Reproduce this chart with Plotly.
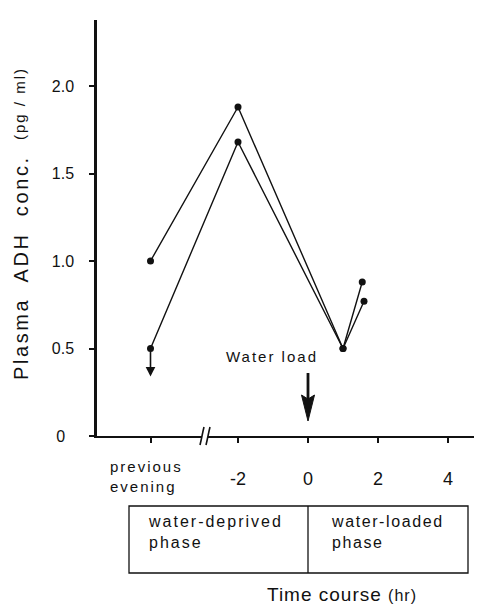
import plotly.graph_objects as go

# ---------------- data ----------------
series_a_x = [-4.5, -2, 1, 1.55]
series_a_y = [1.0, 1.88, 0.5, 0.88]
series_b_x = [-4.5, -2, 1, 1.6]
series_b_y = [0.5, 1.68, 0.5, 0.77]

y_tick_vals = [0, 0.5, 1.0, 1.5, 2.0]
y_tick_text = ["0\u2007", "0.5", "1.0", "1.5", "2.0"]
x_tick_vals = [-4.5, -2, 0, 2, 4]
x_tick_text = ["previous<br>evening", "-2", "0", "2", "4"]

phase_labels = ["water-deprived<br>phase", "water-loaded<br>phase"]
y_title = "Plasma  ADH  conc."
y_unit = "(pg / ml)"
x_title = "Time course"
x_unit = "(hr)"
water_load_label = "Water load"

# ---------------- layout helpers (page pixels -> paper) ----------------
OFF = 8                     # default page margin around the plot div
W, H = 482, 607             # window size
L, R, T, B = 97, 480, 20, 436  # plot area in page pixels
X0PX, PX_PER_HR = 308, 35   # pixel of t=0 and pixels per hour
PX_PER_UNIT = 175           # pixels per pg/ml


def px(x):
    return (x - L) / (R - L)


def py(y):
    return (B - y) / (B - T)


FONT = "Liberation Sans, Arial, Helvetica, sans-serif"
INK = "#111111"

fig = go.Figure()
for xs, ys in [(series_a_x, series_a_y), (series_b_x, series_b_y)]:
    fig.add_trace(go.Scatter(
        x=xs, y=ys, mode="lines+markers",
        line=dict(color=INK, width=1.4),
        marker=dict(color=INK, size=7),
        showlegend=False, cliponaxis=False,
    ))

fig.update_layout(
    width=W - OFF, height=H - OFF,
    margin=dict(l=L - OFF, r=W - R, t=T - OFF, b=H - B, pad=0),
    paper_bgcolor="white", plot_bgcolor="white",
    font=dict(family=FONT, color=INK),
    xaxis=dict(
        range=[(L - X0PX) / PX_PER_HR, (R - X0PX) / PX_PER_HR],
        showgrid=False, zeroline=False,
        showline=True, linecolor=INK, linewidth=2,
        ticks="outside", ticklen=5, tickwidth=2, tickcolor=INK,
        tickvals=x_tick_vals,
        ticktext=[""] + x_tick_text[1:],
        tickfont=dict(size=18, color=INK),
        ticklabelstandoff=20,
    ),
    yaxis=dict(
        range=[0, (B - T) / PX_PER_UNIT],
        showgrid=False, zeroline=False,
        showline=True, linecolor=INK, linewidth=2.5,
        ticks="outside", ticklen=5, tickwidth=2, tickcolor=INK,
        tickvals=y_tick_vals, ticktext=y_tick_text,
        tickfont=dict(size=16, color=INK),
        ticklabelstandoff=12,
    ),
)

ann = []
# previous evening label
ann.append(dict(xref="paper", yref="paper", x=px(108), y=py(476),
                text=f"<span style='letter-spacing:2px'>{x_tick_text[0]}</span>",
                showarrow=False, align="left", xanchor="left", yanchor="middle",
                font=dict(size=15, color=INK)))
# y title
ann.append(dict(xref="paper", yref="paper", x=px(21), y=py(268),
                text=f"<span style='letter-spacing:2.6px'>{y_title}</span>",
                textangle=-90, showarrow=False, xanchor="center", yanchor="middle",
                font=dict(size=20, color=INK)))
ann.append(dict(xref="paper", yref="paper", x=px(20), y=py(104),
                text=f"<span style='letter-spacing:2px'>{y_unit}</span>",
                textangle=-90, showarrow=False, xanchor="center", yanchor="middle",
                font=dict(size=15, color=INK)))
# x title
ann.append(dict(xref="paper", yref="paper", x=px(342), y=py(594),
                text=f"<span style='letter-spacing:1px'>{x_title} <span style='font-size:16px'>{x_unit}</span></span>",
                showarrow=False, xanchor="center", yanchor="middle",
                font=dict(size=19, color=INK)))
# phase labels
ann.append(dict(xref="paper", yref="paper", x=px(146), y=py(532),
                text=f"<span style='letter-spacing:2px'>{phase_labels[0]}</span>",
                showarrow=False, align="left", xanchor="left", yanchor="middle",
                font=dict(size=16, color=INK)))
ann.append(dict(xref="paper", yref="paper", x=px(329), y=py(532),
                text=f"<span style='letter-spacing:1.6px'>{phase_labels[1]}</span>",
                showarrow=False, align="left", xanchor="left", yanchor="middle",
                font=dict(size=16, color=INK)))
# water load label
ann.append(dict(xref="x", yref="y", x=-1.03, y=0.457,
                text=f"<span style='letter-spacing:2px'>{water_load_label}</span>",
                showarrow=False, xanchor="center", yanchor="middle",
                font=dict(size=15, color=INK)))
# small down arrow (below detection) at previous evening
ann.append(dict(xref="x", yref="y", axref="x", ayref="y",
                x=series_b_x[0], y=0.34, ax=series_b_x[0], ay=series_b_y[0], text="",
                showarrow=True, arrowhead=2, arrowsize=1.2, arrowwidth=1.6,
                arrowcolor=INK))
fig.update_layout(annotations=ann)

shapes = []
# water load arrow (shaft + slender notched head)
shapes.append(dict(type="line", xref="paper", yref="paper",
                   x0=px(X0PX), x1=px(X0PX), y0=py(373), y1=py(402),
                   line=dict(color=INK, width=2.8)))
head = (f"M {px(X0PX - 6.5)} {py(395)} L {px(X0PX)} {py(421)} L {px(X0PX + 6.5)} {py(395)} "
        f"L {px(X0PX)} {py(399)} Z")
shapes.append(dict(type="path", xref="paper", yref="paper", path=head,
                   fillcolor=INK, line=dict(color=INK, width=1)))
# phase box
bx0, bx1, bdiv, by0, by1 = px(129), px(468), px(308), py(506), py(573)
shapes.append(dict(type="rect", xref="paper", yref="paper", x0=bx0, x1=bx1, y0=by1, y1=by0,
                   line=dict(color=INK, width=1.3)))
shapes.append(dict(type="line", xref="paper", yref="paper", x0=bdiv, x1=bdiv, y0=by1, y1=by0,
                   line=dict(color=INK, width=1.3)))
# axis break
shapes.append(dict(type="rect", xref="paper", yref="paper", x0=px(202), x1=px(208),
                   y0=py(B + 3), y1=py(B - 3), fillcolor="white", line=dict(width=0), layer="above"))
for x0 in (200, 206):
    path = (f"M {px(x0)} {py(B + 9)} Q {px(x0 + 1)} {py(B + 5)} {px(x0 + 2)} {py(B)} "
            f"T {px(x0 + 4)} {py(B - 9)}")
    shapes.append(dict(type="path", xref="paper", yref="paper", path=path,
                       line=dict(color=INK, width=1.6), layer="above"))
fig.update_layout(shapes=shapes)

fig.write_html("out.html")
